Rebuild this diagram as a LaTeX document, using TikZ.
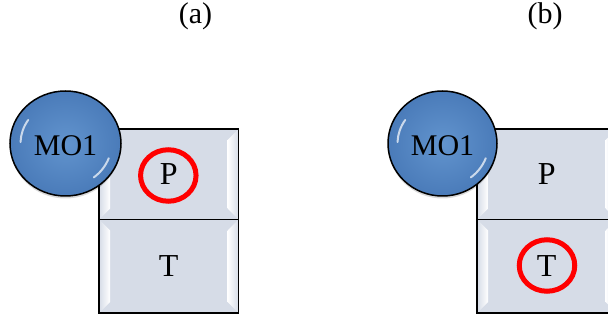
\documentclass[tikz,border=0pt]{standalone}
\usepackage{fontspec}
\setmainfont{Liberation Serif}
\usetikzlibrary{shapes.geometric,calc}
\definecolor{boxfill}{RGB}{214,220,231}
\definecolor{balllight}{RGB}{98,148,206}
\definecolor{balldark}{RGB}{74,123,185}
\definecolor{ringred}{RGB}{255,0,0}
\tikzset{
  bevelbox/.style={rectangle, draw=black, line width=1.5pt, fill=boxfill,
    minimum width=139.5pt, inner sep=0pt, font=\fontsize{32}{36}\selectfont,
    path picture={
      \coordinate (nw) at (path picture bounding box.north west);
      \coordinate (se) at (path picture bounding box.south east);
      \shade[left color=boxfill, right color=white]
        (nw) -- ($(nw)+(11pt,-11pt)$) -- ($(nw|-se)+(11pt,11pt)$) -- (nw|-se) -- cycle;
      \shade[left color=white, right color=boxfill]
        (se) -- ($(se)+(-11pt,11pt)$) -- ($(se|-nw)+(-11pt,-11pt)$) -- (se|-nw) -- cycle;
    }},
  ballnode/.style={ellipse, draw=black, line width=1.5pt, minimum width=111pt,
    minimum height=105pt, inner sep=0pt, inner color=balllight, outer color=balldark,
    font=\fontsize{30}{34}\selectfont, text height=24pt, text depth=0pt,
    path picture={
      \coordinate (bc) at (path picture bounding box.center);
      \draw[white, opacity=.7, line width=2pt, line cap=round]
        ($(bc)+(178:45pt and 42pt)$) arc[start angle=178, end angle=146, x radius=45pt, y radius=42pt];
      \draw[white, opacity=.7, line width=2pt, line cap=round]
        ($(bc)+(-20:46pt and 43pt)$) arc[start angle=-20, end angle=-52, x radius=46pt, y radius=43pt];
    }},
  ballshadow/.style={fill=black, opacity=.15},
  ringmark/.style={ellipse, draw=ringred, line width=5pt, minimum width=55.5pt,
    minimum height=51.5pt, inner sep=0pt},
  lbl/.style={anchor=base, inner sep=0pt, font=\fontsize{30}{34}\selectfont}
}
\begin{document}
\begin{tikzpicture}[x=1pt,y=-1pt]
\useasboundingbox (0,0) rectangle (608,323);
% (a)
\node[lbl] (la) at (195.5,24) {(a)};
\node[bevelbox, minimum height=90.5pt] (P1) at (168.75,174.25) {P};
\node[bevelbox, minimum height=93.5pt] (T1) at (168.75,266.25) {T};
\fill[ballshadow] (65.5,146.5) ellipse[x radius=55pt, y radius=52pt];
\node[ballnode] (M1) at (65.5,143.5) {MO1};
\node[ringmark] (R1) at (168.3,175.5) {};
% (b)
\node[lbl] (lb) at (545,24) {(b)};
\node[bevelbox, minimum height=90.5pt] (P2) at (546.75,174.25) {P};
\node[bevelbox, minimum height=93.5pt] (T2) at (546.75,266.25) {T};
\fill[ballshadow] (442.5,146.5) ellipse[x radius=54pt, y radius=52pt];
\node[ballnode, minimum width=109pt] (M2) at (442.5,143.5) {MO1};
\node[ringmark] (R2) at (547,265.5) {};
\end{tikzpicture}
\end{document}
